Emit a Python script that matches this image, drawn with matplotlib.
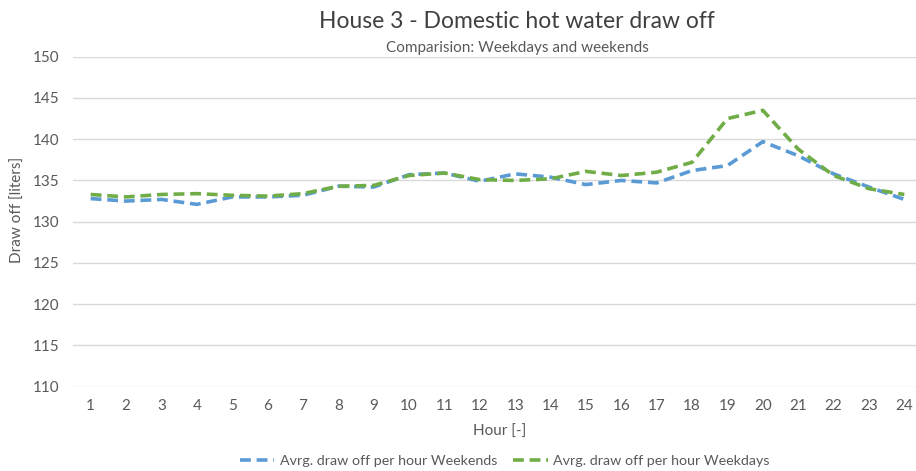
import matplotlib
matplotlib.use("Agg")
import matplotlib.pyplot as plt
from matplotlib.lines import Line2D

plt.rcParams['font.family'] = ['Lato', 'DejaVu Sans']

hours = list(range(1, 25))
hour_labels = [str(h) for h in hours]
weekends = [132.8, 132.5, 132.7, 132.1, 133.0, 133.0, 133.2, 134.3, 134.2, 135.7,
            135.9, 134.9, 135.8, 135.4, 134.5, 135.0, 134.7, 136.2, 136.8, 139.7,
            138.0, 135.8, 134.2, 132.7]
weekdays = [133.3, 133.0, 133.3, 133.4, 133.2, 133.1, 133.4, 134.3, 134.4, 135.6,
            135.9, 135.1, 135.0, 135.2, 136.1, 135.6, 136.0, 137.2, 142.5, 143.5,
            138.8, 135.6, 134.0, 133.3]
y_ticks = [110, 115, 120, 125, 130, 135, 140, 145, 150]

BLUE = '#5B9BD5'
GREEN = '#70AD47'
TEXT = '#595959'
GRID = '#D9D9D9'

W, H = 916, 471
fig = plt.figure(figsize=(W / 100, H / 100), dpi=100)
left, right, top, bottom = 73, 922, 56.7, 386.7
ax = fig.add_axes([left / W, 1 - bottom / H, (right - left) / W, (bottom - top) / H])

DASH = (3.0, 1.6)
ax.plot(hours, weekends, color=BLUE, lw=2.6, dashes=DASH,
        label='Avrg. draw off per hour Weekends')
ax.plot(hours, weekdays, color=GREEN, lw=2.6, dashes=DASH,
        label='Avrg. draw off per hour Weekdays')

ax.set_xlim(0.5, 24.5)
ax.set_ylim(110, 150)
ax.set_yticks(y_ticks)
ax.set_xticks(hours)
ax.set_xticklabels(hour_labels)
ax.grid(axis='y', color=GRID, lw=1.0)
ax.set_axisbelow(True)
for s in ax.spines.values():
    s.set_visible(False)
ax.tick_params(length=0, labelsize=11, colors=TEXT, pad=9)
ax.tick_params(axis='y', pad=10)

fig.text(18 / W, 1 - 210 / H, 'Draw off [liters]', rotation=90, ha='center', va='center',
         fontsize=11, color=TEXT)
fig.text(500 / W, 1 - 432 / H, 'Hour [-]', ha='center', va='center', fontsize=11, color=TEXT)
fig.text(517 / W, 1 - 22 / H, 'House 3 - Domestic hot water draw off', ha='center', va='center',
         fontsize=16.5, color='#404040')
fig.text(517 / W, 1 - 48 / H, 'Comparision: Weekdays and weekends', ha='center', va='center',
         fontsize=11, color=TEXT)

handles = [Line2D([], [], color=BLUE, lw=2.6, dashes=DASH),
           Line2D([], [], color=GREEN, lw=2.6, dashes=DASH)]
fig.legend(handles, ['Avrg. draw off per hour Weekends', 'Avrg. draw off per hour Weekdays'],
           loc='center', bbox_to_anchor=(505 / W, 1 - 461 / H), ncol=2, frameon=False,
           fontsize=10.3, labelcolor=TEXT, handlelength=2.4, handletextpad=0.4,
           columnspacing=1.1)

fig.savefig('out.png', dpi=100)
